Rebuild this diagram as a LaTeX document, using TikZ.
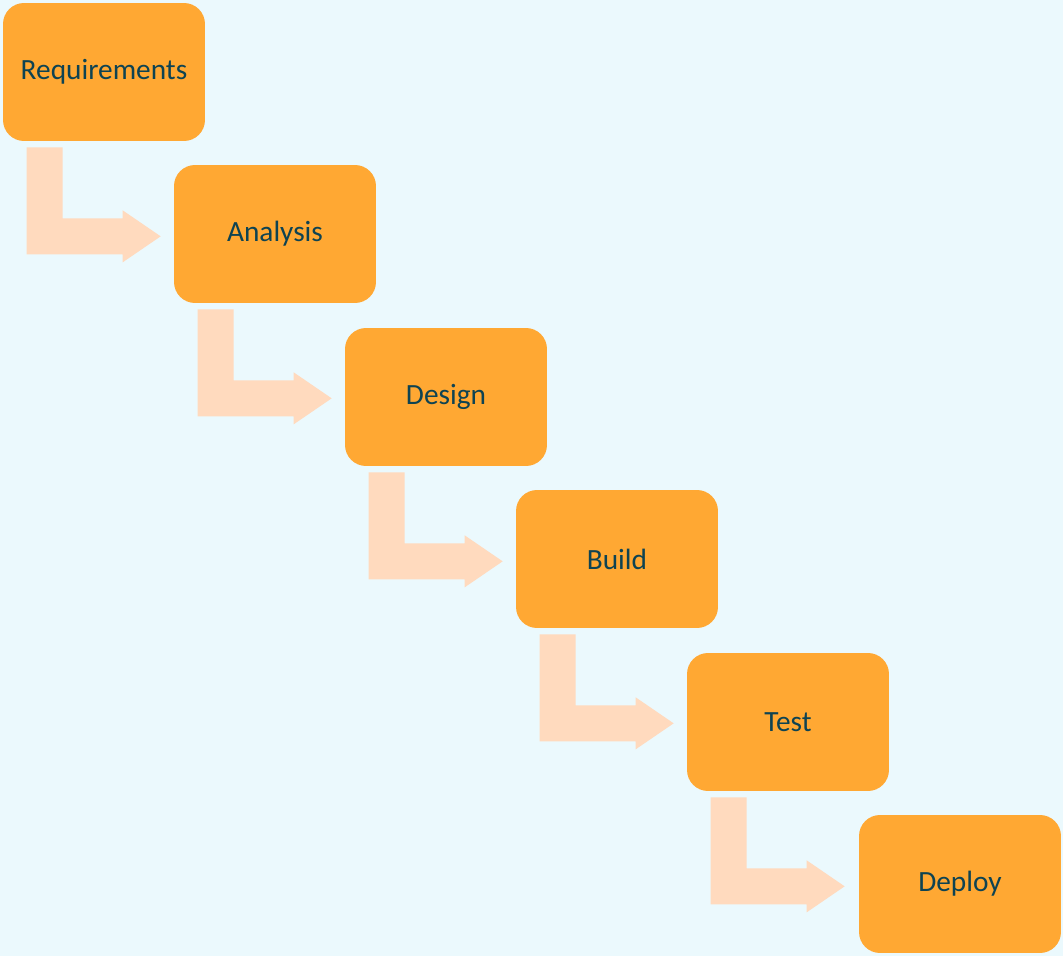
\documentclass[tikz,border=0pt]{standalone}
\usepackage{fontspec}
\setmainfont{Carlito}
\usetikzlibrary{positioning}
\definecolor{bgblue}{HTML}{EBF9FD}
\definecolor{boxorange}{HTML}{FFA833}
\definecolor{arrowpeach}{HTML}{FFDABE}
\definecolor{textteal}{HTML}{0E4352}

\begin{document}
\begin{tikzpicture}[x=0.02cm,y=-0.02cm,
	stage/.style={fill=boxorange,rounded corners=0.42cm,minimum width=4.04cm,minimum height=2.76cm,
		text=textteal,font=\fontsize{16.7}{20}\selectfont},
	flow/.style={fill=arrowpeach}]
	\def\bentarrow#1{
		\fill[flow] ([shift={(24,6)}]#1.south west) -- ++(36,0) -- ++(0,71) -- ++(60,0) -- ++(0,-8)
		-- ++(38,26) -- ++(-38,26) -- ++(0,-8) -- ++(-96,0) -- cycle;
	}
	
	\fill[bgblue] (0,0) rectangle (1063,956);
	
	\node[stage] at (104,72)  (req){Requirements};
	\node[stage] at (275,234) (ana){Analysis};
	\node[stage] at (446,397) (des){Design};
	\node[stage] at (617,559) (bui){Build};
	\node[stage] at (788,722) (tes){Test};
	\node[stage] at (960,884) (dep){Deploy};
	
	\bentarrow{req}
	\bentarrow{ana}
	\bentarrow{des}
	\bentarrow{bui}
	\bentarrow{tes}
\end{tikzpicture}
\end{document}
